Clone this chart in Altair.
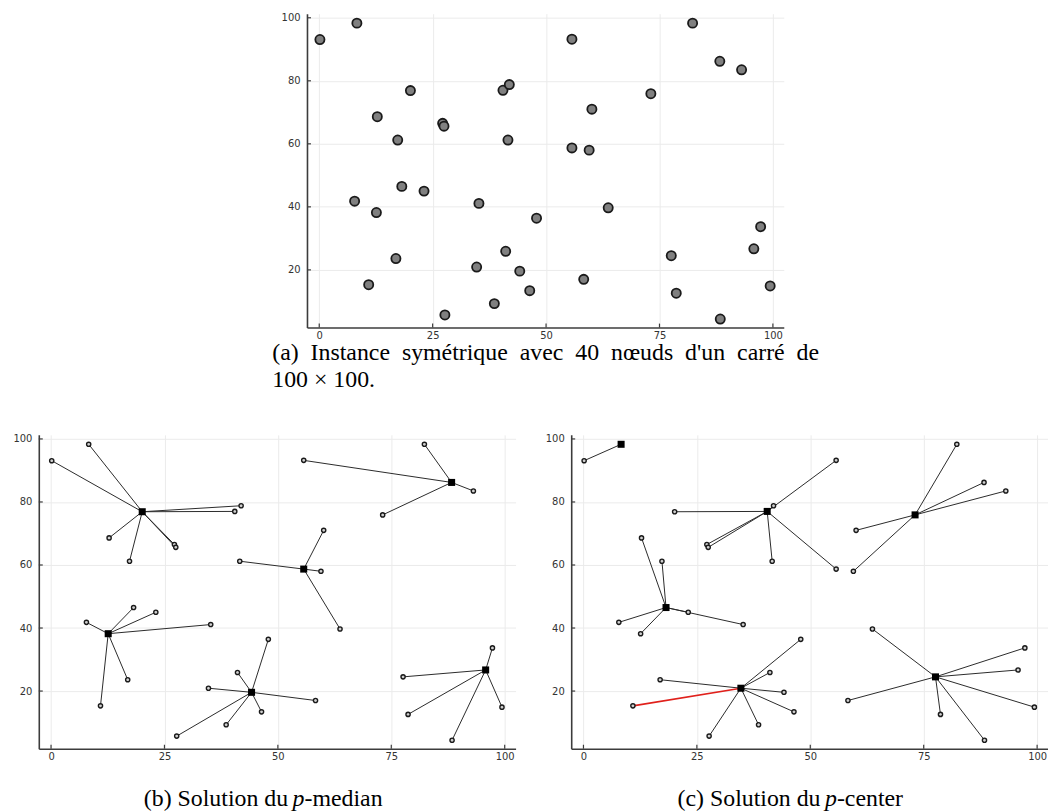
import altair as alt
import pandas as pd

# 40 nodes of the instance
xs = [0.15, 8.3, 20.1, 12.8, 17.3, 27.2, 27.5, 40.5, 41.9, 41.6,
      55.7, 82.3, 88.3, 93.1, 73.1, 60.1, 55.7, 59.5,
      7.8, 12.6, 18.2, 23.1, 35.2, 47.9, 16.9, 10.9, 34.7, 41.1, 44.2, 46.4, 38.6, 27.7,
      63.7, 58.3, 77.6, 78.7, 88.4, 97.3, 95.8, 99.4]
ys = [93.1, 98.3, 76.9, 68.6, 61.2, 66.5, 65.6, 77.0, 78.8, 61.2,
      93.2, 98.3, 86.2, 83.5, 75.9, 71.0, 58.7, 58.0,
      41.8, 38.2, 46.5, 45.0, 41.1, 36.4, 23.6, 15.3, 20.9, 25.9, 19.6, 13.4, 9.3, 5.7,
      39.7, 17.0, 24.5, 12.6, 4.4, 33.7, 26.7, 14.9]

# index (in xs/ys) of the facility each node is assigned to
median_assign = [2, 2, 2, 2, 2, 2, 2, 2, 2, 16,
                 12, 12, 12, 12, 12, 16, 16, 16,
                 19, 19, 19, 19, 19, 28, 19, 19, 28, 28, 28, 28, 28, 28,
                 16, 28, 38, 38, 38, 38, 38, 38]
center_assign = [1, 1, 7, 20, 20, 7, 7, 7, 7, 7,
                 7, 14, 14, 14, 14, 14, 7, 14,
                 20, 20, 20, 20, 20, 26, 26, 26, 26, 26, 26, 26, 26, 26,
                 34, 34, 34, 34, 34, 34, 34, 34]
center_highlight = 25  # node whose link is drawn in red (p-center)

xticks = [0, 25, 50, 75, 100]
yticks = [20, 40, 60, 80, 100]

caption_a = ["(a) Instance symétrique avec 40 nœuds d'un carré de", "100 × 100."]
caption_b = ["(b) Solution du", "p", "-median"]
caption_c = ["(c) Solution du", "p", "-center"]

W, H = 480, 316
XDOM = [-2.7, 102.4]
YDOM = [1.7, 101.3]
AX = "#3c3c3c"
SERIF = "Liberation Serif"
CAP = 24
LINE = 27

xscale = alt.Scale(domain=XDOM, nice=False, zero=False)
yscale = alt.Scale(domain=YDOM, nice=False, zero=False)
xaxis = alt.Axis(values=xticks, title=None, format="d", labelPadding=3)
yaxis = alt.Axis(values=yticks, title=None, format="d", labelPadding=7)


def X(f):
    return alt.X(f, type="quantitative", scale=xscale, axis=xaxis)


def Y(f):
    return alt.Y(f, type="quantitative", scale=yscale, axis=yaxis)


pts = pd.DataFrame({"x": xs, "y": ys})
tx = pd.DataFrame({"t": xticks})
ty = pd.DataFrame({"t": yticks})


def tick_layers():
    a = alt.Chart(tx).mark_rule(color=AX, strokeWidth=1.2).encode(
        x=X("t"), y=alt.value(H), y2=alt.value(H - 4))
    b = alt.Chart(ty).mark_rule(color=AX, strokeWidth=1.2).encode(
        y=Y("t"), x=alt.value(0), x2=alt.value(4))
    return [a, b]


def text_layer(s, x, y, align, italic=False):
    df = pd.DataFrame({"t": [s]})
    return alt.Chart(df).mark_text(
        align=align, baseline="alphabetic", font=SERIF, fontSize=CAP,
        fontStyle="italic" if italic else "normal", color="black",
        lineBreak="\n", lineHeight=LINE
    ).encode(text="t:N", x=alt.value(x), y=alt.value(y))


def edges(assign, hl):
    rows = []
    for i, c in enumerate(assign):
        if i == c:
            continue
        rows.append({"x": xs[i], "y": ys[i], "x2": xs[c], "y2": ys[c], "red": i == hl})
    return pd.DataFrame(rows)


def panel(assign, cap, hl=None):
    e = edges(assign, hl)
    centers = sorted(set(assign))
    cdf = pd.DataFrame({"x": [xs[c] for c in centers], "y": [ys[c] for c in centers]})
    layers = tick_layers()
    layers.append(alt.Chart(e[~e.red]).mark_rule(color="#2a2a2a", strokeWidth=1).encode(
        x=X("x"), y=Y("y"), x2="x2", y2="y2"))
    if e.red.any():
        layers.append(alt.Chart(e[e.red]).mark_rule(color="#e0201b", strokeWidth=1.6).encode(
            x=X("x"), y=Y("y"), x2="x2", y2="y2"))
    layers.append(alt.Chart(pts).mark_point(
        shape="circle", filled=True, size=18, fill="#d0d0d0", stroke="#1a1a1a",
        strokeWidth=1.4, opacity=1).encode(x=X("x"), y=Y("y")))
    layers.append(alt.Chart(cdf).mark_point(
        shape="square", filled=True, size=50, color="black", opacity=1).encode(x=X("x"), y=Y("y")))
    base = H + 58
    layers.append(text_layer(cap[0], 251.0, base, "right"))
    layers.append(text_layer(cap[1], 261.5, base, "center", italic=True))
    layers.append(text_layer(cap[2], 267.5, base, "left"))
    return alt.layer(*layers).properties(width=W, height=H)


# justified first line: widen each inter-word space (non-breaking spaces do not collapse)
line1 = caption_a[0].replace(" ", "\u00a0\u00a0")
caption_a_text = line1 + "\n" + caption_a[1]

top = alt.layer(
    *tick_layers(),
    alt.Chart(pts).mark_point(shape="circle", filled=True, size=85, fill="#808080",
                              stroke="#1a1a1a", strokeWidth=1.8, opacity=1).encode(x=X("x"), y=Y("y")),
    text_layer(caption_a_text, -35, H + 33, "left"),
).properties(width=W, height=H)

spacer = alt.Chart(pd.DataFrame({"a": [0]})).mark_point(opacity=0, size=1).encode(
    x=alt.value(1), y=alt.value(1)).properties(width=235, height=2)

row1 = alt.hconcat(spacer, top, spacing=0)
row2 = alt.hconcat(panel(median_assign, caption_b), panel(center_assign, caption_c, center_highlight), spacing=29)

chart = alt.vconcat(row1, row2, spacing=42).properties(
    padding={"left": 4, "top": 2, "right": 0, "bottom": 0}
).configure_view(stroke=None).configure_axis(
    grid=True, gridColor="#ebebeb", gridWidth=1, domainColor=AX, domainWidth=1.6,
    ticks=False, tickSize=0, labelFont="DejaVu Sans", labelFontSize=10, labelColor="#333333"
)

chart.save("out.html", embed_options={"renderer": "svg", "actions": False})
